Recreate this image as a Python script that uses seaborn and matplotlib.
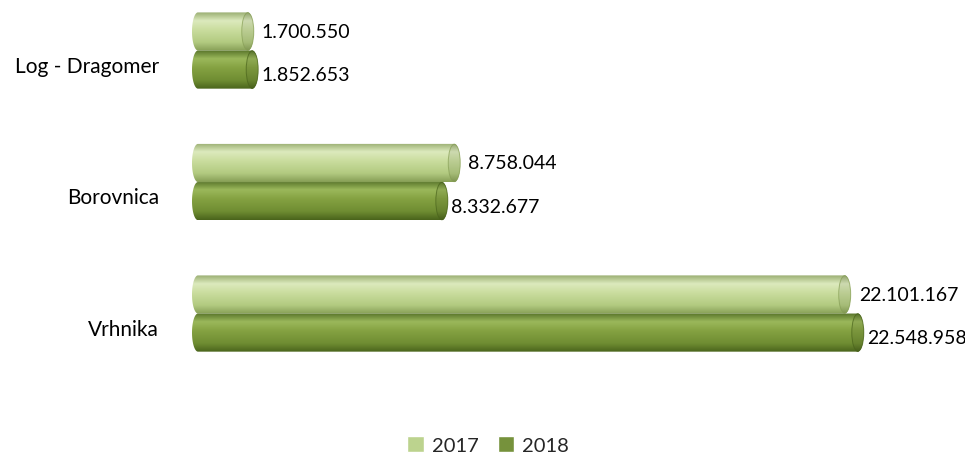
import numpy as np
import pandas as pd
import matplotlib
matplotlib.use("Agg")
import matplotlib.pyplot as plt
import seaborn as sns
from matplotlib.path import Path
from matplotlib.patches import PathPatch, Ellipse
from matplotlib.colors import to_rgb

# --- data ---------------------------------------------------------------
categories = ["Log - Dragomer", "Borovnica", "Vrhnika"]
years = ["2017", "2018"]
values_2017 = [1700550, 8758044, 22101167]
values_2018 = [1852653, 8332677, 22548958]

df = pd.DataFrame({
    "kraj": categories * 2,
    "leto": [years[0]] * 3 + [years[1]] * 3,
    "vrednost": values_2017 + values_2018,
})

# --- styling ------------------------------------------------------------
palette = {"2017": "#BCD38E", "2018": "#76923C"}
# vertical shading stops (top -> bottom) giving the cylinder look
shades = {
    "2017": ["#9AAE72", "#DCEABD", "#CADD9F", "#B2CA80", "#879F56"],
    "2018": ["#58742A", "#9BB85B", "#85A242", "#6F8D32", "#4A641C"],
}
stop_pos = [0.0, 0.22, 0.45, 0.78, 1.0]

sns.set_theme(style="white")
plt.rcParams["font.family"] = ["Lato", "DejaVu Sans"]

W, H = 965, 456
fig = plt.figure(figsize=(W / 100, H / 100), dpi=100)
zero_px = 198                   # pixel column of the value zero
left_px, right_px = 188, 958
top_px, bot_px = 5.5, 373.7
ax = fig.add_axes([left_px / W, 1 - bot_px / H,
                   (right_px - left_px) / W, (bot_px - top_px) / H])

sns.barplot(data=df, y="kraj", x="vrednost", hue="leto", order=categories,
            hue_order=years, palette=palette, width=0.58, orient="h",
            saturation=1, ax=ax)

px_per_unit = 29.26e-6          # pixels per value unit on the x axis
xmin = -(zero_px - left_px) / px_per_unit
xmax = (right_px - zero_px) / px_per_unit
r = 6 / px_per_unit             # half-width of the elliptical bar ends


def gradient(stops, n=96, darken=1.0):
    t = np.linspace(0, 1, n)
    cols = np.array([to_rgb(c) for c in stops])
    img = np.stack([np.interp(t, stop_pos, cols[:, k]) for k in range(3)], axis=1)
    return np.clip(img * darken, 0, 1)[:, None, :]


for year, container in zip(years, ax.containers):
    for bar in container:
        bar.set_visible(False)
        x0, x1 = 0.0, bar.get_width()
        y0, h = bar.get_y(), bar.get_height()
        yc = y0 + h / 2
        th = np.linspace(-np.pi / 2, np.pi / 2, 60)
        xs = np.concatenate([x1 + r * np.cos(th), x0 - r * np.cos(th[::-1])])
        ys = np.concatenate([yc + h / 2 * np.sin(th), yc + h / 2 * np.sin(th[::-1])])
        body = PathPatch(Path(np.column_stack([xs, ys]), closed=True),
                         facecolor="none", edgecolor="none")
        ax.add_patch(body)
        im = ax.imshow(gradient(shades[year]), extent=(x0 - r, x1 + r, y0 + h, y0),
                       aspect="auto", origin="upper", interpolation="bilinear", zorder=2)
        im.set_clip_path(body)

        # end face of the cylinder
        cap = Ellipse((x1, yc), width=2 * r, height=h, facecolor="none",
                      edgecolor="none")
        ax.add_patch(cap)
        im2 = ax.imshow(gradient(shades[year], darken=0.93),
                        extent=(x1 - r, x1 + r, y0 + h, y0),
                        aspect="auto", origin="upper", interpolation="bilinear", zorder=3)
        im2.set_clip_path(cap)
        ax.add_patch(Ellipse((x1, yc), width=2 * r, height=h * 0.98, facecolor="none",
                             edgecolor=shades[year][4], linewidth=0.7, alpha=0.7, zorder=4))

        # value label
        v = int(round(bar.get_width()))
        txt = f"{v:,}".replace(",", ".")
        dx, dy = (8, 0) if year == "2017" else (3, -5)
        ax.annotate(txt, xy=(x1 + r, yc), xytext=(dx * 0.72, dy * 0.72),
                    textcoords="offset points", ha="left", va="center",
                    fontsize=14, color="#000000", annotation_clip=False, zorder=5)

ax.set_xlim(xmin, xmax)
ax.set_ylim(2.45, -0.35)
ax.set_yticks([i + 0.1 for i in range(len(categories))], categories)
ax.tick_params(axis="y", length=0, pad=21, labelsize=15, labelcolor="#000000")
ax.set_xticks([])
ax.set_xlabel("")
ax.set_ylabel("")
for s in ax.spines.values():
    s.set_visible(False)

sns.move_legend(ax, "center", bbox_to_anchor=(488 / W, 1 - 446 / H),
                bbox_transform=fig.transFigure, ncol=2, title=None, frameon=False,
                fontsize=14.5, handlelength=0.8, handleheight=0.8,
                handletextpad=0.4, columnspacing=0.95)

fig.savefig("out.png", dpi=100)
